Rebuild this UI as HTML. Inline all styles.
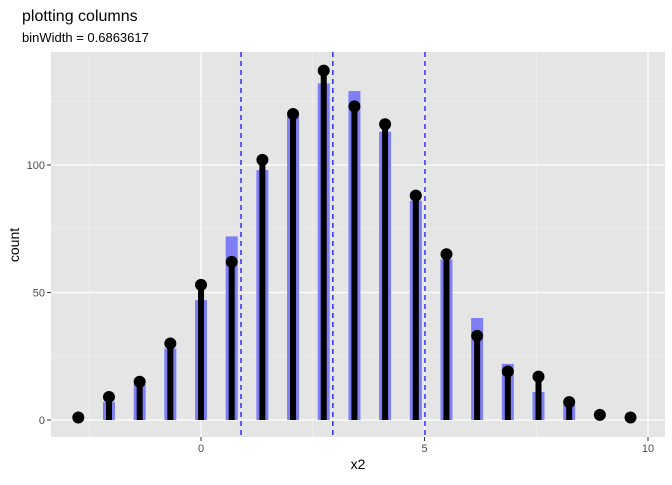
<!DOCTYPE html>
<html><head><meta charset="utf-8"><style>
body{margin:0;background:#fff;font-family:"Liberation Sans",sans-serif}
</style></head><body>
<svg id="c" width="672" height="480" xmlns="http://www.w3.org/2000/svg" font-family="Liberation Sans, sans-serif">
<text x="22" y="21" font-size="16" fill="#000">plotting columns</text>
<text x="22" y="42" font-size="13" fill="#000">binWidth = 0.6863617</text>
<rect x="51" y="52" width="614" height="385" fill="#e5e5e5"/>
<g id="g"></g>
<text x="358" y="469" font-size="14" text-anchor="middle">x2</text>
<text transform="translate(19,245) rotate(-90)" font-size="14" text-anchor="middle">count</text>
</svg>
<script>
const binWidth = 0.6863617;
const firstCenter = -2.745;
const pointCounts = [1,9,15,30,53,62,102,120,137,123,116,88,65,33,19,17,7,2,1];
const barCounts = [0,7,14,28,47,72,98,119,132,129,113,86,63,40,22,11,6,0,0];
const vlines = [0.895,2.95,5.01];
const xTicks = [0,5,10];
const yTicks = [0,50,100];
const X = v => 201 + v*44.7;
const Y = v => 420 - v*2.55;
const g = document.getElementById('g');
const NS = 'http://www.w3.org/2000/svg';
function mk(t,a){const e=document.createElementNS(NS,t);for(const k in a)e.setAttribute(k,a[k]);g.appendChild(e);return e;}
[-2.5,2.5,7.5].forEach(v=>{const e=mk('line',{x1:X(v),x2:X(v),y1:52,y2:437,stroke:'#f2f2f2','stroke-width':0.6});

});
[25,75,125].forEach(v=>{const e=mk('line',{x1:51,x2:665,y1:Y(v),y2:Y(v),stroke:'#f2f2f2','stroke-width':0.6});

});
xTicks.forEach(v=>{const e=mk('line',{x1:X(v),x2:X(v),y1:52,y2:437,stroke:'#fff','stroke-width':1.2});


const t=mk('line',{x1:X(v),x2:X(v),y1:437,y2:441,stroke:'#333'});


const l=mk('text',{x:X(v),y:452,'font-size':11,fill:'#4d4d4d','text-anchor':'middle'});l.textContent=v;

});
yTicks.forEach(v=>{const e=mk('line',{x1:51,x2:665,y1:Y(v),y2:Y(v),stroke:'#fff','stroke-width':1.2});


const t=mk('line',{x1:47,x2:51,y1:Y(v),y2:Y(v),stroke:'#333'});


const l=mk('text',{x:45,y:Y(v)+4,'font-size':11,fill:'#4d4d4d','text-anchor':'end'});l.textContent=v;

});
barCounts.forEach((v,i)=>{if(!v)return;const c=X(firstCenter+i*binWidth);
const e=mk('rect',{x:c-6,y:Y(v),width:12,height:Y(0)-Y(v),fill:'#7f7ff5'});

});
pointCounts.forEach((v,i)=>{const c=X(firstCenter+i*binWidth);
const s=mk('line',{x1:c,x2:c,y1:Y(0),y2:Y(v),stroke:'#000','stroke-width':6});

});
vlines.forEach(v=>{const e=mk('line',{x1:X(v),x2:X(v),y1:52,y2:437,stroke:'#0000ff','stroke-width':1.2,'stroke-dasharray':'5,4'});

});
pointCounts.forEach((v,i)=>{const c=X(firstCenter+i*binWidth);
const p=mk('circle',{cx:c,cy:Y(v),r:6,fill:'#000'});

});
</script>
</body></html>
